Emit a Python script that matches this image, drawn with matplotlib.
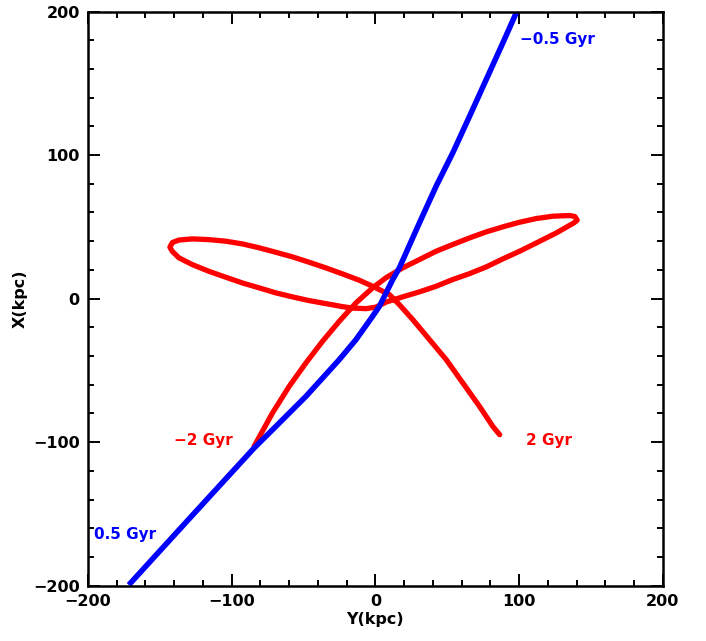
import matplotlib
matplotlib.use('Agg')
import matplotlib.pyplot as plt
from matplotlib.ticker import MultipleLocator

# orbit traced in the Y-X plane (kpc)
red_y = [-84.4, -71.6, -60.0, -48.3, -36.8, -25.1, -13.5, -1.9, 7.5, 19.0, 30.7, 42.3,
         53.9, 65.6, 77.2, 88.8, 100.4, 112.1, 123.6, 135.3, 138.8, 140.5, 138.1, 135.3,
         126.0, 112.1, 100.4, 88.8, 77.2, 65.6, 53.9, 42.3, 30.7, 19.0, 7.5, 0.5, -6.5,
         -16.0, -22.8, -34.4, -46.0, -57.7, -69.3, -80.9, -92.5, -104.1, -115.8, -127.4,
         -136.7, -141.4, -143.0, -141.2, -136.7, -127.4, -115.8, -104.1, -92.5, -80.9,
         -69.3, -57.7, -46.0, -34.4, -22.8, -11.2, -1.9, 9.8, 16.7, 26.0, 37.7, 49.3,
         60.9, 72.5, 81.8, 86.5]
red_x = [-103.0, -79.7, -61.2, -44.8, -29.8, -15.8, -3.0, 7.5, 14.6, 21.4, 27.2, 33.0,
         37.7, 42.3, 46.5, 50.0, 53.2, 55.8, 57.4, 57.9, 57.2, 54.7, 52.7, 51.1,
         45.8, 38.8, 33.0, 27.7, 22.1, 17.4, 13.3, 8.6, 4.7, 1.2, -2.4, -5.9, -7.0,
         -6.6, -5.6, -3.5, -1.4, 1.2, 4.0, 7.5, 10.9, 14.9, 19.0, 23.7,
         28.4, 33.0, 35.9, 39.1, 40.8, 41.6, 41.1, 40.0, 38.1, 35.4,
         32.3, 29.1, 25.3, 21.4, 17.2, 12.8, 8.6, 2.8, -4.2, -14.6, -28.6, -42.5,
         -58.8, -75.1, -89.1, -94.8]

blue_y = [-171.6, -128.3, -84.4, -71.6, -48.3, -25.1, -13.5, -1.9, 2.8, 7.5, 12.1, 16.7,
          26.0, 30.7, 42.3, 53.9, 65.6, 77.2, 88.8, 98.1]
blue_x = [-199.5, -152.0, -104.1, -91.4, -68.1, -42.5, -28.6, -12.3, -5.4, 4.0, 13.3, 21.4,
          42.3, 52.8, 78.3, 101.6, 127.1, 152.7, 178.3, 199.2]

labels = ['\u22120.5 Gyr', '0.5 Gyr', '\u22122 Gyr', '2 Gyr']
label_pos = [(100.5, 180.5), (-196, -164.5), (-140, -99), (105, -99)]
label_col = ['blue', 'blue', 'red', 'red']

fig = plt.figure(figsize=(7.06, 6.41), dpi=100)
ax = fig.add_axes([0.1246, 0.0863, 0.8141, 0.8957])

ax.plot(red_y, red_x, color='red', lw=3.8, solid_joinstyle='round', solid_capstyle='round')
ax.plot(blue_y, blue_x, color='blue', lw=4.0, solid_joinstyle='round', solid_capstyle='butt')

for t, (px, py), c in zip(labels, label_pos, label_col):
  ax.text(px, py, t, color=c, fontsize=11, fontweight='bold', va='center', ha='left')

ax.set_xlim(-200, 200)
ax.set_ylim(-200, 200)
ax.xaxis.set_major_locator(MultipleLocator(100))
ax.yaxis.set_major_locator(MultipleLocator(100))
ax.xaxis.set_minor_locator(MultipleLocator(20))
ax.yaxis.set_minor_locator(MultipleLocator(20))
ax.tick_params(which='both', direction='in', top=True, right=True, width=1.4)
ax.tick_params(which='major', length=8.5, labelsize=11.5, pad=6)
ax.tick_params(which='minor', length=4.3)
for lab in ax.get_xticklabels() + ax.get_yticklabels():
  lab.set_fontweight('bold')
for s in ax.spines.values():
  s.set_linewidth(1.8)

ax.set_xlabel('Y(kpc)', fontsize=11.5, fontweight='bold', labelpad=2)
ax.set_ylabel('X(kpc)', fontsize=11.5, fontweight='bold', labelpad=4)

fig.savefig('out.png', dpi=100)
